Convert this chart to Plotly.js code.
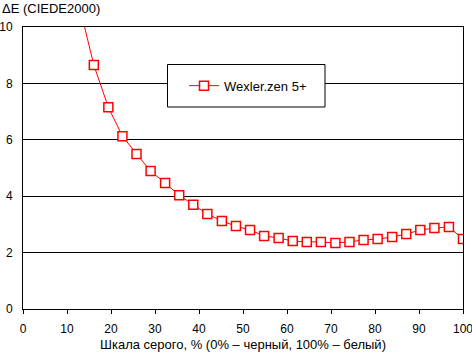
<!DOCTYPE html>
<html>
<head>
<meta charset="utf-8">
<script src="https://cdn.plot.ly/plotly-3.0.1.min.js"></script>
<style>html,body{margin:0;padding:0;background:#fff;}#chart{width:472px;height:352px;}</style>
</head>
<body>
<div id="chart"></div>
<script>
// Gray level, % (0% = black, 100% = white)
const grayPercent = [12.9, 16.1, 19.4, 22.6, 25.8, 29.0, 32.3, 35.5, 38.7, 41.9, 45.2, 48.4, 51.6, 54.8,
  58.1, 61.3, 64.5, 67.7, 71.0, 74.2, 77.4, 80.6, 83.9, 87.1, 90.3, 93.5, 96.8, 100];
// ΔE (CIEDE2000)
const deltaE = [10.7, 8.65, 7.15, 6.13, 5.50, 4.89, 4.47, 4.03, 3.70, 3.37, 3.12, 2.94, 2.80, 2.59,
  2.52, 2.41, 2.38, 2.38, 2.34, 2.38, 2.45, 2.48, 2.55, 2.66, 2.80, 2.87, 2.91, 2.48];
const seriesName = 'Wexler.zen 5+';
const yTitle = 'ΔE (CIEDE2000)';
const xTitle = 'Шкала серого, % (0% – черный, 100% – белый)';

const W = 472, H = 352;
const m = {l: 23, r: 9, t: 27, b: 43};
const pw = W - m.l - m.r, ph = H - m.t - m.b;
const px = v => (v - m.l) / pw;
const py = v => 1 - (v - m.t) / ph;

const trace = {
  x: grayPercent, y: deltaE, name: seriesName, type: 'scatter', mode: 'lines+markers',
  line: {color: '#ff0000', width: 1},
  marker: {symbol: 'square', size: 9, color: '#ffffff', line: {color: '#ff0000', width: 1.5}},
  showlegend: true
};

const layout = {
  width: W, height: H,
  margin: m,
  paper_bgcolor: '#ffffff', plot_bgcolor: '#ffffff',
  font: {family: '"Liberation Sans", Arial, sans-serif', size: 12, color: '#000000'},
  xaxis: {
    range: [0, 100], dtick: 10, tick0: 0, showgrid: false, zeroline: false,
    showline: true, linecolor: '#000', linewidth: 1, mirror: true,
    ticks: 'outside', ticklen: 4, tickcolor: '#000',
    ticklabelstandoff: 5, ticklabeloverflow: 'allow',
    title: {text: xTitle, standoff: 4, font: {size: 13}}
  },
  yaxis: {
    range: [0, 10], dtick: 2, tick0: 0, showgrid: true, gridcolor: '#000', gridwidth: 1,
    zeroline: false, showline: true, linecolor: '#000', linewidth: 1, mirror: true,
    ticks: '', ticklabelstandoff: 7, ticklabeloverflow: 'allow'
  },
  showlegend: true,
  legend: {
    x: px(184), y: py(85.7), xanchor: 'left', yanchor: 'middle',
    bgcolor: 'rgba(0,0,0,0)', borderwidth: 0, font: {size: 13}
  },
  shapes: [{
    type: 'rect', xref: 'paper', yref: 'paper', layer: 'above',
    x0: px(167.5), x1: px(325), y0: py(107), y1: py(64.5),
    fillcolor: '#ffffff', line: {color: '#000', width: 1}
  }],
  annotations: [{
    text: yTitle, xref: 'paper', yref: 'paper', x: px(0), y: py(8),
    xanchor: 'left', yanchor: 'middle', showarrow: false, font: {size: 13}
  }]
};

Plotly.newPlot('chart', [trace], layout, {staticPlot: true, displayModeBar: false});
</script>
</body>
</html>
